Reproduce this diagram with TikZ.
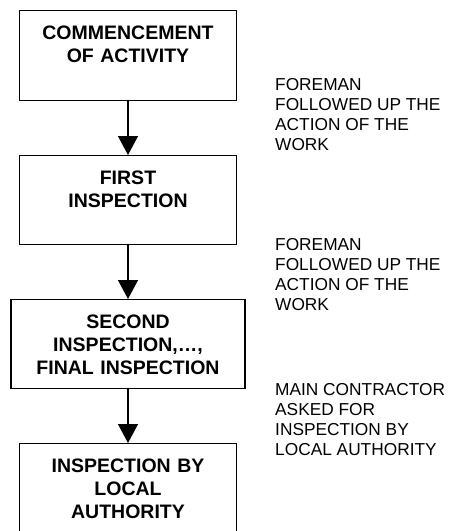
\documentclass[tikz,border=0pt]{standalone}
\usepackage{fontspec}
\setmainfont{Liberation Sans}
\usetikzlibrary{arrows.meta}

\tikzset{
  stagebox/.style={draw, line width=1.3pt, anchor=north, inner xsep=0pt, inner ysep=0pt,
    text width=217pt, align=center, text height=29pt, text depth=60pt,
    font=\bfseries\fontsize{19.5}{23}\selectfont},
  note/.style={anchor=north west, inner sep=0pt, align=left,
    font=\fontsize{17.3}{20}\selectfont},
  flow/.style={line width=1.3pt, -{Triangle[width=20pt,length=19pt]}}
}

\begin{document}
\begin{tikzpicture}[x=1pt,y=-1pt]
  \useasboundingbox (0,0) rectangle (449,531);
  % stages
  \node[stagebox, text depth=60.5pt] (commence) at (128,10) {COMMENCEMENT\\OF ACTIVITY};
  \node[stagebox] (first) at (128,155) {FIRST\\INSPECTION};
  \node[stagebox, text width=234pt] (second) at (128,299) {SECOND\\INSPECTION,\dots,\\FINAL INSPECTION};
  \node[stagebox] (authority) at (128,443) {INSPECTION BY\\LOCAL\\AUTHORITY};
  \draw[flow] (commence) -- (first);
  \draw[flow] (first) -- (second);
  \draw[flow] (second) -- (authority);
  % remarks
  \node[note] (foreman1) at (275,78) {FOREMAN\\FOLLOWED UP THE\\ACTION OF THE\\WORK};
  \node[note] (foreman2) at (275,238) {FOREMAN\\FOLLOWED UP THE\\ACTION OF THE\\WORK};
  \node[note] (contractor) at (275,383) {MAIN CONTRACTOR\\ASKED FOR\\INSPECTION BY\\LOCAL AUTHORITY};
\end{tikzpicture}
\end{document}
